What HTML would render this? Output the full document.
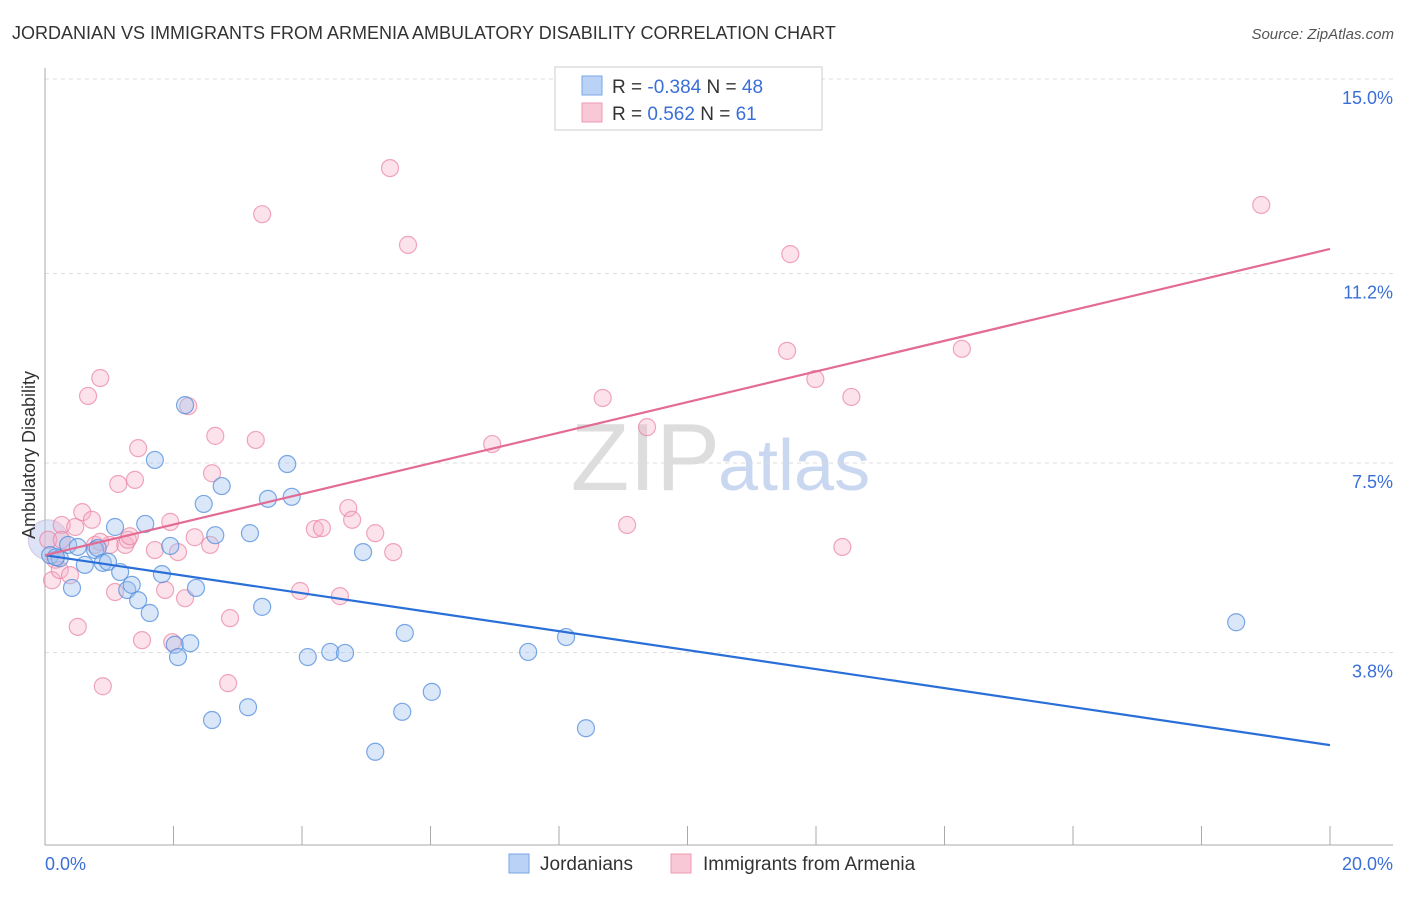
<!DOCTYPE html>
<html><head><meta charset="utf-8"><style>
body{margin:0;background:#fff;font-family:"Liberation Sans",sans-serif}
svg text{font-family:"Liberation Sans",sans-serif}
</style></head><body>
<svg id="chart" width="1406" height="892">
<text x="12" y="39" font-size="18" fill="#333">JORDANIAN VS IMMIGRANTS FROM ARMENIA AMBULATORY DISABILITY CORRELATION CHART</text>
<text x="1394" y="39" font-size="15" fill="#555" text-anchor="end" font-style="italic">Source: ZipAtlas.com</text>
<text x="720" y="490" font-size="96" fill="#ddd" text-anchor="end" font-family="Liberation Serif">ZIP</text>
<text x="718" y="490" font-size="72" fill="#c9d8f0">atlas</text>
<g id="grid"></g><g id="pts"></g><g id="lines"></g>
<text transform="translate(35,455) rotate(-90)" font-size="18" fill="#333" text-anchor="middle">Ambulatory Disability</text>
<text x="45" y="870" font-size="18" fill="#3a6fd8">0.0%</text>
<text x="1393" y="870" font-size="18" fill="#3a6fd8" text-anchor="end">20.0%</text>
<g>
<rect x="555" y="67" width="267" height="63" fill="#fff" stroke="#ccc"/>
<rect x="582" y="76" width="20" height="19" fill="#b9d2f5" stroke="#7aa6e8"/>
<rect x="582" y="103" width="20" height="19" fill="#f9c8d6" stroke="#ee9ab3"/>
<text x="612" y="93" font-size="19" fill="#333">R = <tspan fill="#3a6fd8">-0.384</tspan>   N = <tspan fill="#3a6fd8">48</tspan></text>
<text x="612" y="120" font-size="19" fill="#333">R =  <tspan fill="#3a6fd8"> 0.562</tspan>   N =  <tspan fill="#3a6fd8">61</tspan></text>
</g>
<g>
<rect x="509" y="854" width="20" height="19" fill="#b9d2f5" stroke="#7aa6e8"/>
<text x="540" y="870" font-size="19" fill="#333">Jordanians</text>
<rect x="671" y="854" width="20" height="19" fill="#f9c8d6" stroke="#ee9ab3"/>
<text x="703" y="870" font-size="19" fill="#333">Immigrants from Armenia</text>
</g>
</svg>
<script>
const yTicks=[3.8,7.5,11.2,15.0];
const yTickLabels=["3.8%","7.5%","11.2%","15.0%"];
const blueX=[0.08,0.23,0.36,0.42,0.51,0.62,0.78,0.82,0.90,0.98,1.09,1.17,1.28,1.35,1.45,1.56,1.63,1.71,1.82,1.95,2.02,2.07,2.18,2.26,2.35,2.47,2.60,2.65,2.75,3.16,3.19,3.38,3.47,3.77,3.84,4.09,4.44,4.67,4.95,5.14,5.56,5.60,6.02,7.52,8.11,8.42,18.54,0.17];
const blueY=[5.70,5.64,5.90,5.06,5.86,5.51,5.80,5.84,5.55,5.57,6.25,5.37,5.02,5.12,4.82,6.31,4.57,7.56,5.33,5.88,3.95,3.71,8.63,3.98,5.06,6.70,2.48,6.09,7.05,2.73,6.13,4.69,6.80,7.48,6.84,3.71,3.81,3.79,5.76,1.86,2.64,4.18,3.03,3.81,4.10,2.32,4.39,5.66];
const pinkX=[0.05,0.11,0.16,0.23,0.26,0.39,0.47,0.51,0.58,0.67,0.73,0.78,0.86,0.90,1.01,1.09,1.14,1.25,1.29,1.32,1.40,1.45,1.51,1.71,1.87,1.95,1.98,2.07,2.18,2.23,2.33,2.57,2.60,2.65,2.85,2.88,3.28,3.38,3.97,4.20,4.31,4.59,4.72,4.78,5.14,5.37,5.42,5.65,6.96,8.68,9.06,9.37,11.55,11.60,11.99,12.41,12.55,14.27,18.93,0.86,0.26];
const pinkY=[6.00,5.21,5.61,5.41,6.29,5.31,6.25,4.30,6.54,8.81,6.39,5.90,9.16,3.14,5.90,4.98,7.09,5.90,6.00,6.07,7.17,7.79,4.04,5.80,5.02,6.35,4.00,5.76,4.86,8.61,6.05,5.90,7.30,8.03,3.20,4.47,7.95,12.36,5.00,6.21,6.23,4.90,6.62,6.39,6.13,13.26,5.76,11.76,7.87,8.77,6.29,8.20,9.69,11.58,9.14,5.86,8.79,9.73,12.54,5.96,6.00];
const blueTrend=[5.70,1.99];
const pinkTrend=[5.70,11.68];
const NS="http://www.w3.org/2000/svg";
const X=v=>45+v/20*1285, Y=v=>847-v*51.2;
function mk(t,a,p){const e=document.createElementNS(NS,t);for(const k in a)e.setAttribute(k,a[k]);p.appendChild(e);return e;}
const g=document.getElementById('grid');
yTicks.forEach((t,i)=>{
 const l=mk('line',{x1:45,x2:1393,y1:Y(t),y2:Y(t),stroke:'#ddd','stroke-dasharray':'4,4'},g);
 
 
 const tx=mk('text',{x:1393,y:Y(t)+25,'font-size':18,fill:'#3a6fd8','text-anchor':'end'},g);
 tx.textContent=yTickLabels[i];
 
 
});
const ax=mk('line',{x1:45,x2:45,y1:68,y2:845,stroke:'#aaa'},g);


const bx=mk('line',{x1:45,x2:1393,y1:845,y2:845,stroke:'#aaa'},g);


for(let i=0;i<=10;i++){const t=mk('line',{x1:X(i*2),x2:X(i*2),y1:826,y2:845,stroke:'#aaa'},g);
 
 }
const p=document.getElementById('pts');
mk('circle',{cx:X(0.05),cy:Y(6.0),r:20,fill:'rgba(185,200,240,0.5)',stroke:'rgba(200,170,210,0.6)'},p);
pinkX.forEach((x,i)=>{const c=mk('circle',{cx:X(x),cy:Y(pinkY[i]),r:8.5,fill:'rgba(246,176,198,0.35)',stroke:'rgba(233,130,162,0.7)','stroke-width':1.2},p);
 
 });
blueX.forEach((x,i)=>{const c=mk('circle',{cx:X(x),cy:Y(blueY[i]),r:8.5,fill:'rgba(160,195,240,0.4)',stroke:'rgba(80,140,220,0.75)','stroke-width':1.2},p);
 
 });
const L=document.getElementById('lines');
const bl=mk('line',{x1:X(0),y1:Y(blueTrend[0]),x2:X(20),y2:Y(blueTrend[1]),stroke:'#2a6fd8','stroke-width':2.2},L);


const pl=mk('line',{x1:X(0),y1:Y(pinkTrend[0]),x2:X(20),y2:Y(pinkTrend[1]),stroke:'#e36b94','stroke-width':2.2},L);


</script>
</body></html>
